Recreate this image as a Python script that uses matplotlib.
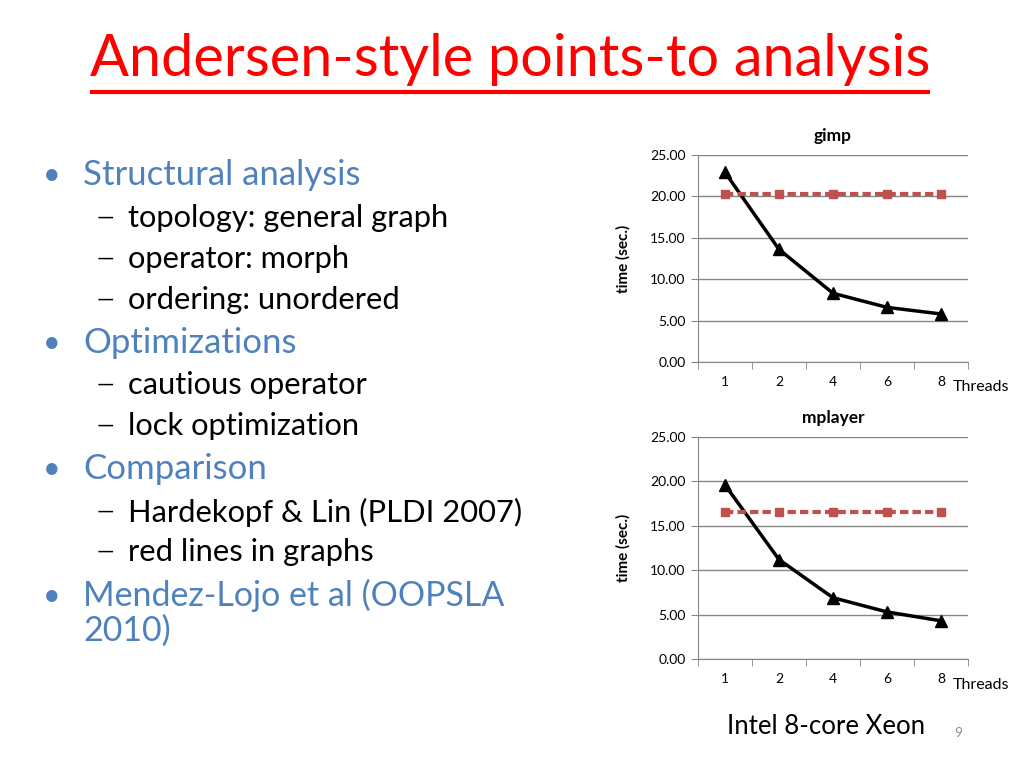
import matplotlib
matplotlib.use("Agg")
import matplotlib.pyplot as plt
from matplotlib.ticker import FixedLocator, NullFormatter

plt.rcParams['font.family'] = ['Lato', 'DejaVu Sans']

threads = ["1", "2", "4", "6", "8"]
gimp_ours = [22.9, 13.6, 8.3, 6.6, 5.8]
gimp_hl = [20.3, 20.3, 20.3, 20.3, 20.3]
mplayer_ours = [19.6, 11.2, 6.9, 5.3, 4.3]
mplayer_hl = [16.5, 16.5, 16.5, 16.5, 16.5]

title = "Andersen-style points-to analysis"
bullets = [
    (0, "Structural analysis"),
    (1, "topology: general graph"),
    (1, "operator: morph"),
    (1, "ordering: unordered"),
    (0, "Optimizations"),
    (1, "cautious operator"),
    (1, "lock optimization"),
    (0, "Comparison"),
    (1, "Hardekopf & Lin (PLDI 2007)"),
    (1, "red lines in graphs"),
    (0, "Mendez-Lojo et al (OOPSLA\n2010)"),
]
bullet_y = [175, 218, 259, 300, 343, 385, 426, 469, 512, 552, 596]

W, H = 1024, 768
fig = plt.figure(figsize=(W / 100, H / 100), dpi=100)

def fx(x):
    return x / W

def fy(y):
    return 1 - y / H

# title, underlined
fig.text(fx(510), fy(60), title, color="#ff0000", fontsize=41.5, ha="center", va="center")
fig.add_artist(plt.Line2D([fx(92), fx(928)], [fy(92), fy(92)], color="#ff0000", lw=3))

blue = "#4f81bd"
for (lvl, txt), y in zip(bullets, bullet_y):
    if lvl == 0:
        fig.text(fx(52), fy(y), "\u2022", color=blue, fontsize=22, ha="center", va="center")
        if "\n" in txt:
            fig.text(fx(83), fy(y - 17), txt, color=blue, fontsize=24.5, ha="left",
                     va="top", linespacing=1.08)
        else:
            fig.text(fx(83), fy(y), txt, color=blue, fontsize=25, ha="left", va="center")
    else:
        fig.text(fx(97), fy(y), "\u2014", color="black", fontsize=16, ha="left", va="center")
        fig.text(fx(128), fy(y), txt, color="black", fontsize=22.2, ha="left", va="center")

def chart(rect, name, ours, hl):
    ax = fig.add_axes(rect)
    x = list(range(len(threads)))
    ax.plot(x, ours, color="black", lw=2.5, marker="^", ms=8, zorder=3)
    ax.plot(x, hl, color="#c0504d", lw=3, ls=(0, (2, 1)), marker="s", ms=6, zorder=3)
    ax.set_xlim(-0.5, len(threads) - 0.5)
    ax.set_ylim(0, 25)
    ax.set_yticks([0, 5, 10, 15, 20, 25])
    ax.set_yticklabels(["%.2f" % v for v in [0, 5, 10, 15, 20, 25]], fontsize=10)
    ax.set_xticks(x)
    ax.set_xticklabels(threads, fontsize=10)
    ax.xaxis.set_minor_locator(FixedLocator([i - 0.5 for i in range(len(threads) + 1)]))
    ax.xaxis.set_minor_formatter(NullFormatter())
    ax.tick_params(axis="x", which="major", length=0, pad=10)
    ax.tick_params(axis="x", which="minor", length=5, color="#868686")
    ax.tick_params(axis="y", length=5, color="#868686", pad=4)
    ax.grid(axis="y", color="#868686", lw=1)
    ax.set_axisbelow(True)
    for s in ["top", "right"]:
        ax.spines[s].set_visible(False)
    ax.spines["left"].set_color("#868686")
    ax.spines["bottom"].set_color("#868686")
    ax.set_title(name, fontsize=12.5, fontweight="bold", pad=10)
    ax.set_ylabel("time (sec.)", fontsize=11, fontweight="bold", labelpad=14)
    return ax

chart([fx(698), fy(362), fx(270), 207 / H], "gimp", gimp_ours, gimp_hl)
fig.text(fx(953), fy(387), "Threads", fontsize=11.5, ha="left", va="center")

chart([fx(698), fy(659), fx(270), 222 / H], "mplayer", mplayer_ours, mplayer_hl)
fig.text(fx(953), fy(685), "Threads", fontsize=11.5, ha="left", va="center")

fig.text(fx(826), fy(727), "Intel 8-core Xeon", fontsize=18.5, ha="center", va="center")
fig.text(fx(958), fy(733), "9", fontsize=10, color="#8c8c8c", ha="center", va="center")

fig.savefig("out.png", dpi=100)
